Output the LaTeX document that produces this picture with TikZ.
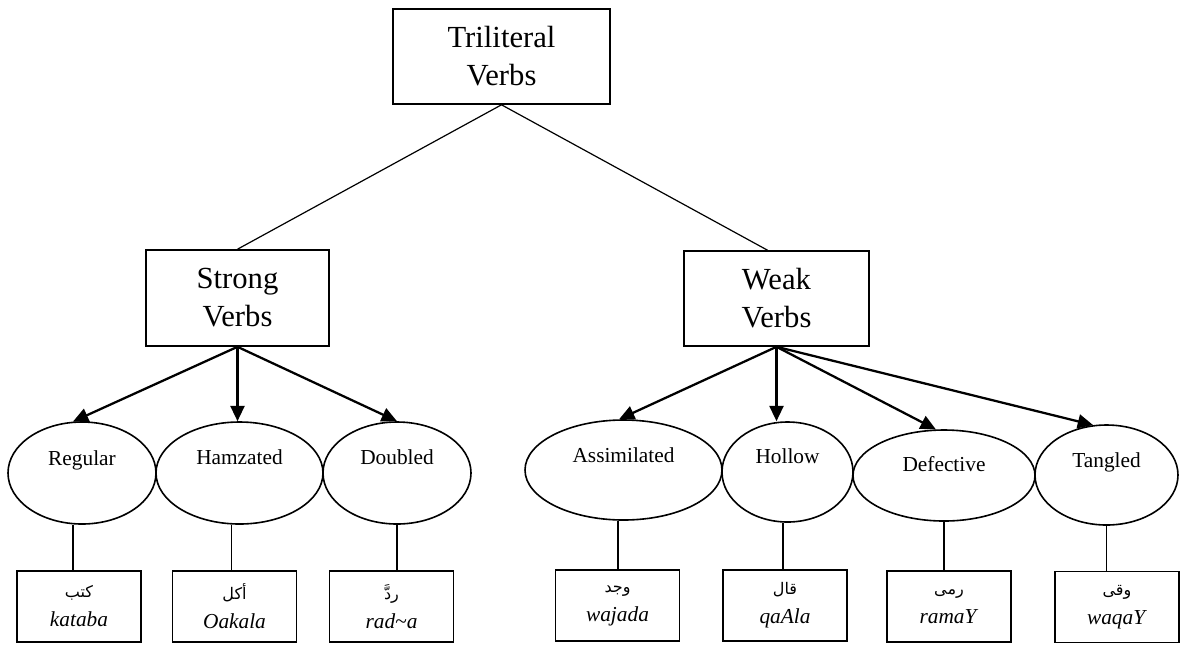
\documentclass[tikz,border=0pt]{standalone}
\usepackage{fontspec}
\setmainfont{Liberation Serif}
\newfontfamily\arabicfont[Script=Arabic]{DejaVu Sans}
\TeXXeTstate=1
\usetikzlibrary{shapes.geometric,arrows.meta}
% Arabic word, set right to left
\newcommand\arword[1]{{\arabicfont\fontsize{12}{14}\selectfont\beginR #1\endR}}
% oval caption, lifted above the oval's centre
\newcommand\ovaltext[2]{\smash{\raisebox{#1}{#2}}}
\begin{document}
\begin{tikzpicture}[x=0.75pt,y=-0.75pt,
  catbox/.style={draw,line width=1.2pt,inner sep=0pt,align=center,
    font=\fontsize{23}{28.5}\selectfont},
  kindoval/.style={draw,ellipse,line width=1.2pt,inner sep=0pt,
    font=\fontsize{16}{19}\selectfont},
  wordbox/.style={draw,line width=1.2pt,inner sep=0pt,align=center,
    minimum width=93pt,minimum height=53.25pt,
    font=\fontsize{16}{21.75}\selectfont},
  branch/.style={line width=0.9pt},
  pointer/.style={line width=1.7pt,-{Triangle[length=11.5pt,width=10.5pt]}},
  stem/.style={line width=1.2pt}]
\useasboundingbox (0,0) rectangle (1181,644);

% category boxes
\node[catbox,minimum width=162.75pt,minimum height=71.25pt] (top) at (501.5,56.5) {Triliteral\\Verbs};
\node[catbox,minimum width=137.25pt,minimum height=72pt] (strong) at (237.5,298) {Strong\\Verbs};
\node[catbox,minimum width=138.75pt,minimum height=71.25pt] (weak) at (776.5,298.5) {Weak\\Verbs};

% verb kinds
\node[kindoval,minimum width=111pt,minimum height=76.5pt] (reg) at (82,473) {\ovaltext{6pt}{Regular}};
\node[kindoval,minimum width=125.25pt,minimum height=76.5pt] (ham) at (239.5,473) {\ovaltext{6.5pt}{Hamzated}};
\node[kindoval,minimum width=111pt,minimum height=76.5pt] (dbl) at (397,473) {\ovaltext{6.5pt}{Doubled}};
\node[kindoval,minimum width=147.75pt,minimum height=75pt] (ass) at (623.5,470) {\ovaltext{6pt}{Assimilated}};
\node[kindoval,minimum width=98.25pt,minimum height=75pt] (hol) at (787.5,472) {\ovaltext{6.5pt}{Hollow}};
\node[kindoval,minimum width=136.5pt,minimum height=68.25pt] (def) at (944,475.5) {\ovaltext{3pt}{Defective}};
\node[kindoval,minimum width=107.25pt,minimum height=75pt] (tan) at (1106.5,475) {\ovaltext{6pt}{Tangled}};

% example verbs
\node[wordbox] (w1) at (79,606.5) {\arword{كتب}\\\textit{kataba}};
\node[wordbox] (w2) at (234.5,606.5) {\arword{أكل}\\\textit{Oakala}};
\node[wordbox] (w3) at (391.5,606.5) {\arword{ردَّ}\\\textit{rad\char`\~a}};
\node[wordbox] (w4) at (617.5,605.5) {\arword{وجد}\\\textit{wajada}};
\node[wordbox] (w5) at (785,605.5) {\arword{قال}\\\textit{qaAla}};
\node[wordbox] (w6) at (949,606.5) {\arword{رمى}\\\textit{ramaY}};
\node[wordbox] (w7) at (1117,607) {\arword{وقى}\\\textit{waqaY}};

% top split
\draw[branch] (top.south) -- (strong.north);
\draw[branch] (top.south) -- ([xshift=-6.75pt]weak.north);

% arrows to the kinds
\draw[pointer] (strong.south) -- (reg.100);
\draw[pointer] (strong.south) -- (strong.south |- ham.north);
\draw[pointer] (strong.south) -- (dbl.north);
\draw[pointer] (weak.south) -- (ass.95);
\draw[pointer] (weak.south) -- (weak.south |- hol.north);
\draw[pointer] (weak.south) -- (def.100);
\draw[pointer] (weak.south) -- (tan.105);

% stems down to the examples
\draw[stem] ([xshift=-6.75pt]reg.south) -- ([xshift=-6.75pt]reg.south |- w1.north);
\draw[stem] ([xshift=-6pt]ham.south) -- ([xshift=-6pt]ham.south |- w2.north);
\draw[stem] (dbl.south) -- (dbl.south |- w3.north);
\draw[stem] ([xshift=-4pt]ass.south) -- ([xshift=-4pt]ass.south |- w4.north);
\draw[stem] ([xshift=-3.5pt]hol.south) -- ([xshift=-3.5pt]hol.south |- w5.north);
\draw[stem] (def.south) -- (def.south |- w6.north);
\draw[stem] (tan.south) -- (tan.south |- w7.north);
\end{tikzpicture}
\end{document}
